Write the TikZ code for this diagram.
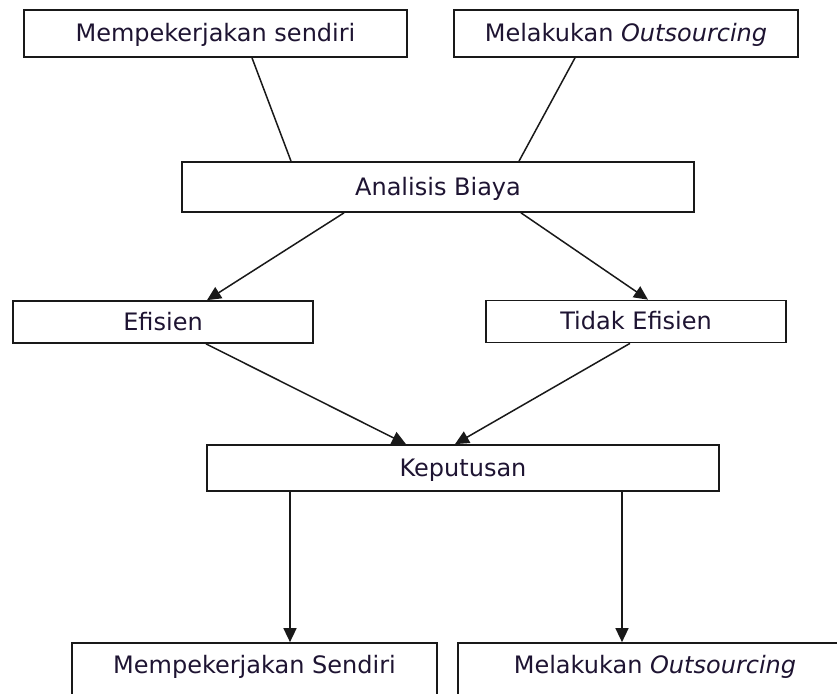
\documentclass[tikz,border=0pt]{standalone}
\usepackage{fontspec}
\setmainfont{DejaVu Sans}
\usetikzlibrary{arrows.meta}
\definecolor{txt}{RGB}{30,20,50}
\definecolor{edge}{RGB}{25,25,25}
\tikzset{
  box/.style={draw=edge, line width=1.7pt, fill=white, inner sep=0pt,
    text=txt, font=\fontsize{24}{28}\selectfont, text height=16pt, text depth=0pt},
  lowbox/.style={box, text height=8pt, text depth=8pt},
  link/.style={draw=edge, line width=1.5pt},
  arrowlink/.style={link, -{Triangle[length=14pt,width=13pt]}}
}
\begin{document}
\begin{tikzpicture}[x=1pt,y=-1pt]
\useasboundingbox (0,0) rectangle (837,693);
\node[box, minimum width=383pt, minimum height=47pt] (b1) at (215.5,33.5) {Mempekerjakan sendiri};
\node[box, minimum width=344pt, minimum height=47pt] (b2) at (626,33.5) {Melakukan \textit{Outsourcing}};
\node[box, minimum width=512pt, minimum height=50pt] (an) at (438,187) {Analisis Biaya};
\node[box, minimum width=300pt, minimum height=42pt] (ef) at (163,322) {Efisien};
\node[box, minimum width=300pt, minimum height=42pt] (te) at (636,321.5) {Tidak Efisien};
\node[box, minimum width=512pt, minimum height=46pt] (kp) at (463,468) {Keputusan};
\node[lowbox, minimum width=365pt, minimum height=60pt] (r1) at (254.5,673) {Mempekerjakan Sendiri};
\node[lowbox, minimum width=394pt, minimum height=60pt] (r2) at (655,673) {Melakukan \textit{Outsourcing}};

\draw[link] ([xshift=36.5pt]b1.south) -- ([xshift=-147pt]an.north);
\draw[link] ([xshift=-51pt]b2.south) -- ([xshift=81pt]an.north);
\draw[arrowlink] ([xshift=-94pt]an.south) -- ([xshift=44pt]ef.north);
\draw[arrowlink] ([xshift=83pt]an.south) -- ([xshift=12pt]te.north);
\draw[arrowlink] ([xshift=43pt]ef.south) -- ([xshift=-57pt]kp.north);
\draw[arrowlink] ([xshift=-6pt]te.south) -- ([xshift=-8pt]kp.north);
\draw[arrowlink] ([xshift=-173pt]kp.south) -- ([xshift=35.5pt]r1.north);
\draw[arrowlink] ([xshift=159pt]kp.south) -- ([xshift=-33pt]r2.north);
\end{tikzpicture}
\end{document}
